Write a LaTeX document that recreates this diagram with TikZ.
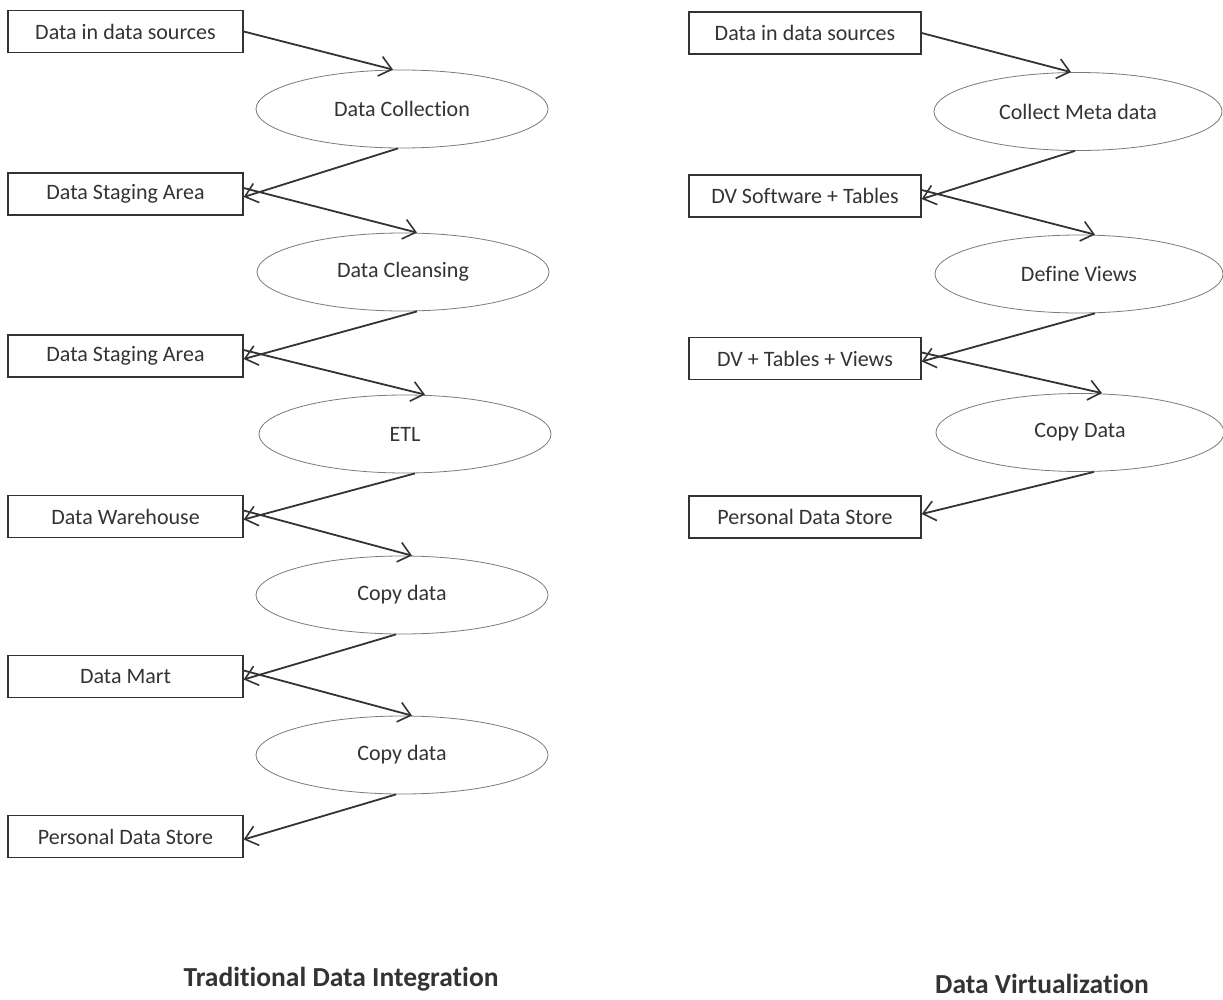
\documentclass[tikz,border=0pt]{standalone}
\usepackage{fontspec}
\setmainfont{Carlito}[Ligatures=NoCommon]
\usetikzlibrary{shapes.geometric,arrows.meta}
\definecolor{ink}{HTML}{333333}
\definecolor{rim}{HTML}{7A7A7A}
\begin{document}
\begin{tikzpicture}[x=1pt,y=-1pt,
  stagebox/.style={draw=ink,line width=1.4pt,rectangle,minimum height=42pt,inner sep=0pt,
    text=ink,font=\fontsize{22}{25}\selectfont},
  lbox/.style={stagebox,minimum width=235pt},
  rbox/.style={stagebox,minimum width=232pt},
  process/.style={draw=rim,line width=0.8pt,ellipse,inner sep=0pt,minimum height=78pt,
    text=ink,font=\fontsize{22}{25}\selectfont},
  lproc/.style={process,minimum width=292pt},
  rproc/.style={process,minimum width=288pt},
  flow/.style={draw=ink,line width=1.8pt,
    -{Straight Barb[length=12pt,width=20pt,line width=1.6pt]}},
  heading/.style={text=ink,font=\fontsize{27.5}{32}\selectfont\bfseries,anchor=base,inner sep=0pt}]
\useasboundingbox (0,0) rectangle (1223,999);

% ---- traditional data integration ----
\node[lbox] (l1) at (125.5,31.5) {Data in data sources};
\node[lproc] (p1) at (402,109) {Data Collection};
\node[lbox] (l2) at (125.5,194) {Data Staging Area};
\node[lproc] (p2) at (403,272) {Data Cleansing};
\node[lbox] (l3) at (125.5,356) {Data Staging Area};
\node[lproc] (p3) at (405,434) {ETL};
\node[lbox] (l4) at (125.5,516.5) {Data Warehouse};
\node[lproc] (p4) at (402,595) {Copy data};
\node[lbox] (l5) at (125.5,676.5) {Data Mart};
\node[lproc] (p5) at (402,755) {Copy data};
\node[lbox] (l6) at (125.5,836.5) {Personal Data Store};

\draw[flow] (l1.east) -- ([xshift=-9pt]p1.north);
\draw[flow] ([xshift=-4pt]p1.south) -- ([yshift=-3pt]l2.east);
\draw[flow] ([yshift=6pt]l2.east) -- ([xshift=14pt]p2.north);
\draw[flow] ([xshift=14pt]p2.south) -- ([yshift=-3pt]l3.east);
\draw[flow] ([yshift=6pt]l3.east) -- ([xshift=20pt]p3.north);
\draw[flow] ([xshift=10pt]p3.south) -- ([yshift=-3pt]l4.east);
\draw[flow] ([yshift=6pt]l4.east) -- ([xshift=10pt]p4.north);
\draw[flow] ([xshift=-6pt]p4.south) -- ([yshift=-3pt]l5.east);
\draw[flow] ([yshift=6pt]l5.east) -- ([xshift=10pt]p5.north);
\draw[flow] ([xshift=-6pt]p5.south) -- ([yshift=-3pt]l6.east);

% ---- data virtualization ----
\node[rbox] (r1) at (805,33) {Data in data sources};
\node[rproc] (q1) at (1078,111.5) {Collect Meta data};
\node[rbox] (r2) at (805,196) {DV Software + Tables};
\node[rproc] (q2) at (1079,274) {Define Views};
\node[rbox] (r3) at (805,358.5) {DV + Tables + Views};
\node[rproc] (q3) at (1080,432.5) {Copy Data};
\node[rbox] (r4) at (805,517) {Personal Data Store};

\draw[flow] (r1.east) -- ([xshift=-7pt]q1.north);
\draw[flow] ([xshift=-3pt]q1.south) -- ([yshift=-3pt]r2.east);
\draw[flow] ([yshift=6pt]r2.east) -- ([xshift=16pt]q2.north);
\draw[flow] ([xshift=16pt]q2.south) -- ([yshift=-3pt]r3.east);
\draw[flow] ([yshift=6pt]r3.east) -- ([xshift=22pt]q3.north);
\draw[flow] ([xshift=14pt]q3.south) -- ([yshift=3pt]r4.east);

% ---- headings ----
\node[heading] (t1) at (341,986) {Traditional Data Integration};
\node[heading] (t2) at (1042,993) {Data Virtualization};
\end{tikzpicture}
\end{document}
